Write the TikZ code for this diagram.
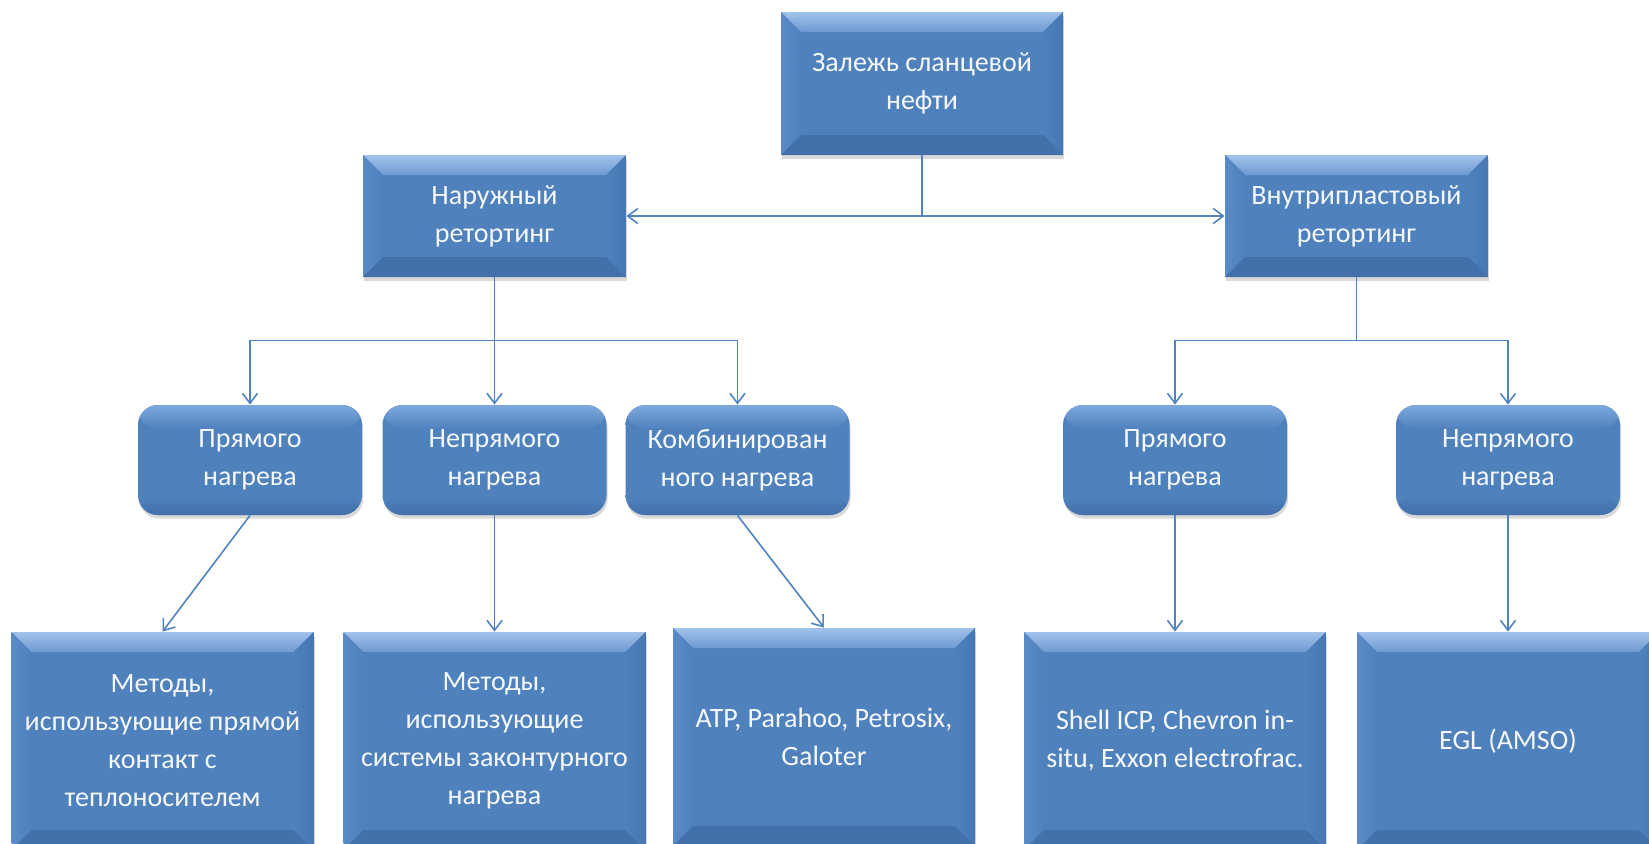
\documentclass[tikz,border=0pt]{standalone}
\usepackage{fontspec}
\setmainfont{Carlito}
\usepackage{tikz}
\usetikzlibrary{arrows.meta}
\usetikzlibrary{shadows}

\definecolor{boxblue}{HTML}{4F81BD}
\definecolor{bevtop}{HTML}{A2C2EB}
\definecolor{bevmid}{HTML}{6C9AD2}
\definecolor{bevleft}{HTML}{5A8AC8}
\definecolor{bevright}{HTML}{4777B3}
\definecolor{bevbottom}{HTML}{4270AB}
\definecolor{roundtop}{HTML}{7DA8DE}
\definecolor{linkblue}{HTML}{4F83C2}

\begin{document}
\begin{tikzpicture}[x=0.5pt,y=-0.5pt,
    every node/.style={text=white!95!boxblue,align=center,inner sep=0pt,font=\fontsize{14}{19}\selectfont},
    boxshadow/.style={drop shadow={shadow xshift=0.6pt,shadow yshift=-1.8pt,opacity=0.3}},
    bevelbox/.style={boxshadow,fill=boxblue,path picture={
        \coordinate (pnw) at (path picture bounding box.north west);
        \coordinate (pne) at (path picture bounding box.north east);
        \coordinate (psw) at (path picture bounding box.south west);
        \coordinate (pse) at (path picture bounding box.south east);
        \shade[top color=bevtop,bottom color=bevmid] (pnw) -- (pne) -- ([shift={(-10pt,-10pt)}]pne) -- ([shift={(10pt,-10pt)}]pnw) -- cycle;
        \shade[left color=bevleft,right color=boxblue] (pnw) -- ([shift={(10pt,-10pt)}]pnw) -- ([shift={(10pt,10pt)}]psw) -- (psw) -- cycle;
        \shade[left color=boxblue,right color=bevright] (pne) -- ([shift={(-10pt,-10pt)}]pne) -- ([shift={(-10pt,10pt)}]pse) -- (pse) -- cycle;
        \fill[bevbottom] (psw) -- ([shift={(10pt,10pt)}]psw) -- ([shift={(-10pt,10pt)}]pse) -- (pse) -- cycle;
    }},
    roundbox/.style={boxshadow,fill=boxblue,rounded corners=10pt,path picture={
        \coordinate (pnw) at (path picture bounding box.north west);
        \coordinate (pne) at (path picture bounding box.north east);
        \coordinate (psw) at (path picture bounding box.south west);
        \coordinate (pse) at (path picture bounding box.south east);
        \shade[top color=roundtop,bottom color=boxblue] (pnw) rectangle ([yshift=-12pt]pne);
        \shade[top color=boxblue,bottom color=bevbottom] ([yshift=10pt]psw) rectangle (pse);
    }},
    rootbox/.style={bevelbox,minimum width=141pt,minimum height=71.5pt},
    retortbox/.style={bevelbox,minimum width=131.5pt,minimum height=61pt},
    heatbox/.style={roundbox,minimum width=112pt,minimum height=55pt},
    methodbox/.style={bevelbox,minimum width=151pt,minimum height=109pt},
    link/.style={draw=linkblue,line width=0.8pt,-{Straight Barb[length=5pt,width=7.5pt]}}]

\path[use as bounding box] (0,0) rectangle (1649,843);

\node[rootbox] (top) at (922,83.5) {Залежь сланцевой\\нефти};
\node[retortbox] (ext) at (494.5,216) {Наружный\\ретортинг};
\node[retortbox] (intr) at (1356.5,216) {Внутрипластовый\\ретортинг};

\node[heatbox] (m1) at (250,460) {Прямого\\нагрева};
\node[heatbox] (m2) at (494.5,460) {Непрямого\\нагрева};
\node[heatbox] (m3) at (737.5,460) {Комбинирован\\ного нагрева};
\node[heatbox] (m4) at (1175,460) {Прямого\\нагрева};
\node[heatbox] (m5) at (1508,460) {Непрямого\\нагрева};

\node[methodbox] (b1) at (162.5,741) {Методы,\\использующие прямой\\контакт с\\теплоносителем};
\node[methodbox] (b2) at (494.5,741) {Методы,\\использующие\\системы законтурного\\нагрева};
\node[methodbox] (b3) at (824,737) {ATP, Parahoo, Petrosix,\\Galoter};
\node[methodbox] (b4) at (1175,741) {Shell ICP, Chevron in-\\situ, Exxon electrofrac.};
\node[methodbox] (b5) at (1508,741) {EGL (AMSO)};

\draw[link] (top.south) |- (ext.east);
\draw[link] (top.south) |- (intr.west);

\path (ext.south) ++(0,63) coordinate (extbus);
\path (intr.south) ++(0,63) coordinate (intrbus);
\foreach \n in {m1,m2,m3}
    \draw[link] (ext.south) -- (extbus) -| (\n.north);
\foreach \n in {m4,m5}
    \draw[link] (intr.south) -- (intrbus) -| (\n.north);

\foreach \a/\b in {m1/b1,m2/b2,m3/b3,m4/b4,m5/b5}
    \draw[link] (\a.south) -- (\b.north);
\end{tikzpicture}
\end{document}
